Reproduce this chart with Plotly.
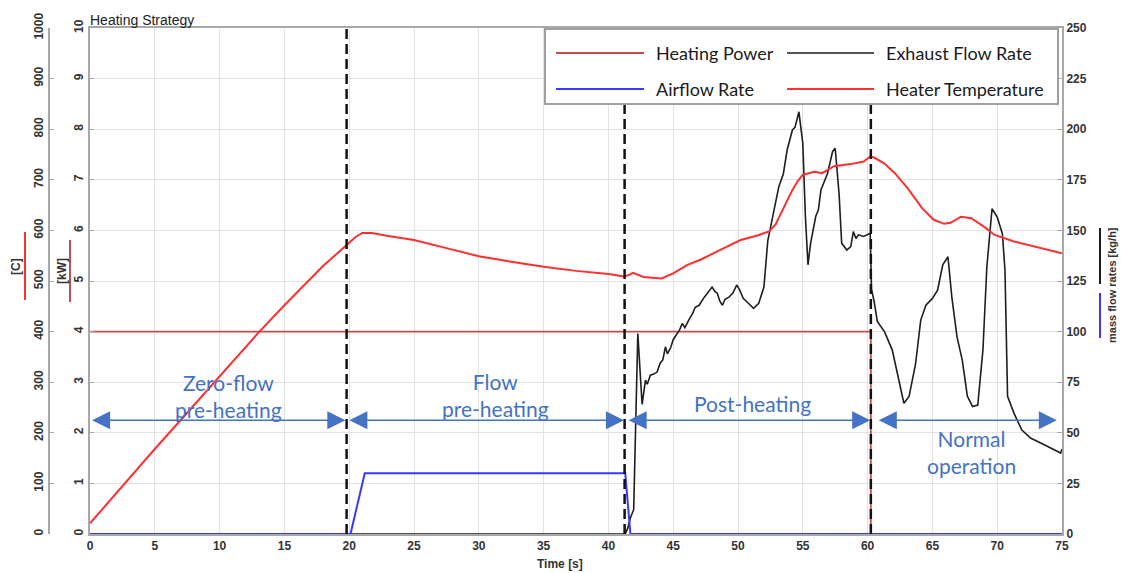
import plotly.graph_objects as go

# ---------------- data ----------------
power_t = [0, 60.25, 60.25, 75]
power_kw = [4, 4, 0, 0]

air_t = [0, 20.1, 21.2, 41.3, 41.7, 75]
air_kgh = [0, 0, 30, 30, 0, 0]

temp_t = [0, 2, 5, 8, 10, 13, 15, 16.2, 18, 19.8, 20.5, 21.0, 21.75, 23, 25, 27.5, 30, 32.5, 35,
          37.5, 40, 41.2, 41.6, 41.9, 42.3, 42.7, 44.1, 45, 46.1, 47.1, 48.6, 50.2, 51.5, 52.4,
          52.9, 53.3, 53.8, 54.2, 54.6, 55, 55.9, 56.5, 57.4, 58.7, 59.7, 60.2, 60.5, 61.3, 62.1,
          63.1, 64.2, 65.1, 65.9, 66.4, 67.2, 68.0, 69.0, 69.8, 71.3, 73.4, 75]
temp_c = [21, 80, 168, 254, 312, 398, 452, 484, 530, 571, 587, 595, 595, 589, 581, 565, 549, 538, 528,
          520, 514, 509, 512, 516, 512, 508, 505, 515, 532, 542, 561, 581, 590, 598,
          612, 634, 660, 680, 697, 710, 716, 713, 727, 731, 736, 746, 744, 732, 713,
          683, 644, 621, 613, 615, 627, 624, 607, 591, 578, 565, 555]

exh_t = [0, 41.3, 41.5, 41.7, 41.95, 42.1, 42.27, 42.45, 42.6, 42.86, 43.0, 43.24, 43.5, 43.76,
         44.0, 44.2, 44.4, 44.55, 44.8, 45.0, 45.3, 45.5, 45.7, 45.9, 46.2, 46.5, 46.7, 47.0,
         47.4, 47.7, 48.0, 48.2, 48.4, 48.6, 48.8, 49.0, 49.3, 49.6, 49.9, 50.1, 50.4, 50.8,
         51.2, 51.6, 52.0, 52.3, 52.8, 53.15, 53.5, 53.8, 54.2, 54.4, 54.7, 55.0, 55.2, 55.4,
         55.6, 56.0, 56.2, 56.4, 56.9, 57.3, 57.5, 57.8, 58.0, 58.4, 58.7, 58.9, 59.1, 59.3,
         59.7, 60.2, 60.3, 60.5, 60.75, 61.3, 61.9, 62.4, 62.8, 63.2, 63.7, 64.1, 64.5, 65.0,
         65.4, 65.8, 66.2, 66.5, 66.9, 67.3, 67.7, 68.1, 68.5, 68.9, 69.2, 69.6, 70.0, 70.4,
         70.6, 70.8, 71.3, 71.9, 72.6, 73.4, 74.4, 74.9, 75]
exh_kgh = [0, 0, 3, 8, 12, 55, 99, 80, 64, 76, 74, 78.5, 79, 80,
           84.5, 86, 92.5, 89, 92, 96, 99, 101, 104, 102, 105.7, 109, 112, 113,
           117, 119.5, 122, 120, 119, 115, 113, 116, 117, 119, 123, 121, 116.5, 114,
           111.5, 114, 122, 145, 160, 171.6, 178, 190, 199.6, 201, 208.6, 193, 157, 133,
           143.6, 157, 160, 170, 178, 189, 190.6, 168, 143.6, 140.3, 142, 149.4, 146, 147.8,
           147, 148.6, 121, 115, 105, 100, 91, 76, 64.6, 68, 84, 105.7, 113, 116.4,
           120.5, 133, 137, 117, 97.4, 86, 68, 63, 63.7, 91, 131.8, 160.7, 156.6, 148.4,
           130.3, 68, 59.6, 51.4, 47.3, 44.8, 41.5, 40, 42]

phase_bounds = [19.8, 41.25, 60.25]
arrow_segments = [(0.05, 19.7), (19.9, 41.2), (41.45, 60.2), (60.75, 74.6)]
arrow_level_kw = 2.25
phase_labels = ["Zero-flow<br>pre-heating", "Flow<br>pre-heating", "Post-heating", "Normal<br>operation"]
phase_label_x = [10.7, 31.3, 51.1, 68.0]
phase_label_y = [2.73, 2.75, 2.58, 1.63]

x_ticks = list(range(0, 76, 5))
kw_ticks = list(range(0, 11, 1))
c_ticks = list(range(0, 1001, 100))
flow_ticks = list(range(0, 251, 25))

legend_names = ["Heating Power", "Exhaust Flow Rate", "Airflow Rate", "Heater Temperature"]

# ---------------- styling ----------------
W, H = 1122, 573
C_POWER = "#c0504d"
C_TEMP = "#ff2f2f"
C_EXH = "#1e1e1e"
C_AIR = "#3a3aff"
C_ANN = "#4472c4"
AX = "#a8a8a8"
GRID = "#e2e2e2"
TICKFONT = dict(family="Liberation Sans", size=12, color="#333333", weight="bold")


def px(x):
    return x / W


def py(y):
    return 1 - y / H


fig = go.Figure()

fig.add_trace(go.Scatter(x=exh_t, y=exh_kgh, name=legend_names[1], mode="lines",
                         line=dict(color=C_EXH, width=1.6), yaxis="y2", showlegend=False))
fig.add_trace(go.Scatter(x=air_t, y=air_kgh, name=legend_names[2], mode="lines",
                         line=dict(color=C_AIR, width=2), yaxis="y2", showlegend=False))
fig.add_trace(go.Scatter(x=power_t, y=power_kw, name=legend_names[0], mode="lines",
                         line=dict(color=C_POWER, width=1.8), yaxis="y", showlegend=False))
fig.add_trace(go.Scatter(x=temp_t, y=temp_c, name=legend_names[3], mode="lines",
                         line=dict(color=C_TEMP, width=2), yaxis="y3", showlegend=False))

shapes = []
for b in phase_bounds:
    shapes.append(dict(type="line", xref="x", yref="y domain", x0=b, x1=b, y0=0, y1=1,
                       line=dict(color="#111111", width=2.5, dash="10px,5px"), layer="above"))

# legend box (manual, two columns)
shapes.append(dict(type="rect", xref="paper", yref="paper", x0=px(545), x1=px(1058), y0=py(104), y1=py(29),
                   line=dict(color="#a0a0a0", width=2), fillcolor="white", layer="above"))
leg_rows = [53, 89]
leg_cols = [(556, 644, 654), (787, 874, 884)]
leg_colors = [C_POWER, "#555555", C_AIR, C_TEMP]
annotations = []
for i, name in enumerate(legend_names):
    r, c = divmod(i, 2)
    x0, x1, xt = leg_cols[c]
    yy = leg_rows[r]
    shapes.append(dict(type="line", xref="paper", yref="paper", x0=px(x0), x1=px(x1), y0=py(yy), y1=py(yy),
                       line=dict(color=leg_colors[i], width=2), layer="above"))
    annotations.append(dict(text=name, xref="paper", yref="paper", x=px(xt), y=py(yy), xanchor="left",
                            yanchor="middle", showarrow=False,
                            font=dict(family="Lato", size=18, color="#1a1a1a")))

# axis unit marks
shapes.append(dict(type="line", xref="paper", yref="paper", x0=px(25), x1=px(25), y0=py(300), y1=py(232),
                   line=dict(color=C_TEMP, width=2)))
shapes.append(dict(type="line", xref="paper", yref="paper", x0=px(70), x1=px(70), y0=py(302), y1=py(240),
                   line=dict(color=C_POWER, width=2)))
shapes.append(dict(type="line", xref="paper", yref="paper", x0=px(1100), x1=px(1100), y0=py(284), y1=py(228),
                   line=dict(color=C_EXH, width=2)))
shapes.append(dict(type="line", xref="paper", yref="paper", x0=px(1100), x1=px(1100), y0=py(338), y1=py(293),
                   line=dict(color=C_AIR, width=2)))

annotations += [
    dict(text="[C]", xref="paper", yref="paper", x=px(16), y=py(266), textangle=-90, showarrow=False,
         xanchor="center", yanchor="middle", font=TICKFONT),
    dict(text="[kW]", xref="paper", yref="paper", x=px(62), y=py(271), textangle=-90, showarrow=False,
         xanchor="center", yanchor="middle", font=TICKFONT),
    dict(text="mass flow rates [kg/h]", xref="paper", yref="paper", x=px(1112), y=py(285), textangle=-90,
         showarrow=False, xanchor="center", yanchor="middle",
         font=dict(family="Liberation Sans", size=11, color="#333333", weight="bold")),
    dict(text="Heating Strategy", xref="paper", yref="paper", x=px(88), y=py(20), xanchor="left",
         yanchor="middle", showarrow=False, font=dict(family="Liberation Sans", size=14, color="#222222")),
    dict(text="Time [s]", xref="paper", yref="paper", x=px(560), y=py(564), xanchor="center",
         yanchor="middle", showarrow=False, font=TICKFONT),
]

for (a, b) in arrow_segments:
    annotations.append(dict(x=b, y=arrow_level_kw, ax=a, ay=arrow_level_kw, xref="x", yref="y",
                            axref="x", ayref="y", text="", showarrow=True, arrowside="end+start",
                            arrowhead=2, startarrowhead=2, arrowsize=2.4, startarrowsize=2.4,
                            arrowwidth=1.5, arrowcolor=C_ANN, standoff=0, startstandoff=0))
for lbl, lx, ly in zip(phase_labels, phase_label_x, phase_label_y):
    annotations.append(dict(text=lbl, x=lx, y=ly, xref="x", yref="y", showarrow=False,
                            xanchor="center", yanchor="middle",
                            font=dict(family="Lato", size=21, color=C_ANN)))

fig.update_layout(
    width=W, height=H, autosize=False,
    margin=dict(l=0, r=0, t=0, b=0),
    paper_bgcolor="white", plot_bgcolor="white",
    showlegend=False,
    xaxis=dict(domain=[px(90), px(1062)], range=[0, 75], tickvals=x_ticks, showgrid=True,
               gridcolor=GRID, gridwidth=1, showline=True, linecolor=AX, linewidth=2, mirror=True,
               ticks="", zeroline=False, tickfont=TICKFONT, automargin=False),
    yaxis=dict(domain=[1 - 534 / H, 1 - 28 / H], range=[0, 10], tickvals=kw_ticks, showgrid=True,
               gridcolor=GRID, gridwidth=1, showline=True, linecolor=AX, linewidth=2,
               ticks="inside", ticklen=4, tickcolor=AX, zeroline=False, tickangle=-90,
               tickfont=TICKFONT, automargin=False, anchor="x"),
    yaxis2=dict(overlaying="y", side="right", range=[0, 250], tickvals=flow_ticks, showgrid=False,
                showline=True, linecolor=AX, linewidth=2, ticks="inside", ticklen=5, tickcolor=AX,
                zeroline=False, tickfont=TICKFONT, automargin=False, anchor="x"),
    yaxis3=dict(overlaying="y", side="left", anchor="free", position=px(49), range=[0, 1000],
                tickvals=c_ticks, showgrid=False, showline=True, linecolor=AX, linewidth=2,
                ticks="inside", ticklen=4, tickcolor=AX, zeroline=False, tickangle=-90,
                tickfont=TICKFONT, automargin=False),
    shapes=shapes,
    annotations=annotations,
)

fig.write_html("out.html")
